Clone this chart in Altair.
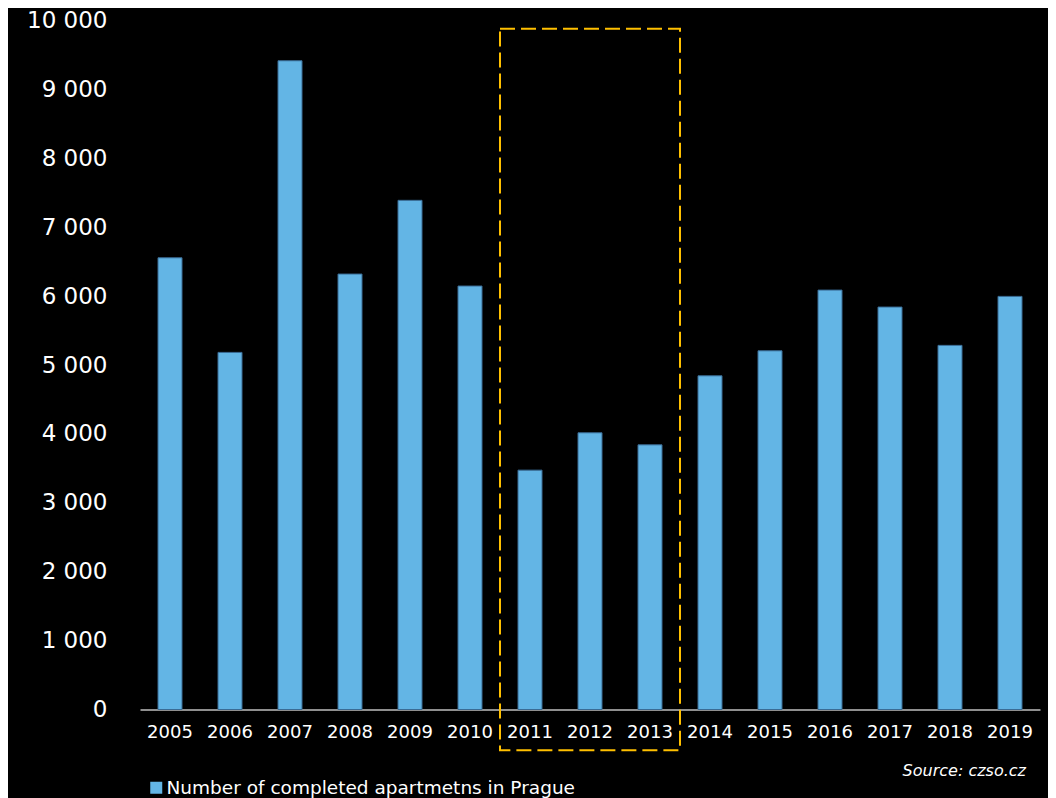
import altair as alt
import pandas as pd

# ---- data ----
years = [str(y) for y in range(2005, 2020)]
completed = [6556, 5183, 9416, 6320, 7390, 6146, 3474, 4016, 3841, 4843, 5206, 6087, 5841, 5285, 5996]
series_name = "Number of completed apartmetns in Prague"
highlight_years = ["2011", "2013"]
highlight_value_range = [-590, 9880]
y_ticks = list(range(0, 10001, 1000))
source_note = "Source: czso.cz"
source_note_level = -968  # value-axis level of the note's baseline, below the axis

FONT = "DejaVu Sans"
BAR_COLOR = "#63b5e5"

bars_df = pd.DataFrame({"year": years, "value": completed, "series": series_name})
hl_df = pd.DataFrame({
    "start": [years.index(highlight_years[0])],
    "end": [years.index(highlight_years[1]) + 1],
    "low": [highlight_value_range[0]],
    "high": [highlight_value_range[1]],
})
note_df = pd.DataFrame({"pos": [len(years)], "level": [source_note_level], "text": [source_note]})

y_scale = alt.Scale(domain=[0, 10000], nice=False)
slot_scale = alt.Scale(domain=[0, len(years)], nice=False, zero=False)

bars = alt.Chart(bars_df).mark_bar(stroke="#3a6c95", strokeWidth=1).encode(
    x=alt.X("year:N", sort=years,
            scale=alt.Scale(paddingInner=0.6, paddingOuter=0.3),
            axis=alt.Axis(title=None, labelAngle=0, labelFontSize=18, labelColor="white",
                          labelFont=FONT, labelPadding=14, tickSize=0, ticks=False,
                          domainColor="#bfbfbf", domainWidth=1.5, grid=False)),
    y=alt.Y("value:Q", scale=y_scale,
            axis=alt.Axis(title=None, values=y_ticks,
                          labelExpr="replace(format(datum.value, ','), ',', ' ')",
                          labelFontSize=23, labelColor="white", labelFont=FONT,
                          labelPadding=33, tickSize=0, ticks=False, domain=False, grid=False)),
    color=alt.Color("series:N", scale=alt.Scale(range=[BAR_COLOR]),
                    legend=alt.Legend(title=None, orient="none", legendX=7, legendY=758,
                                      symbolType="square", symbolSize=144, symbolStrokeWidth=0,
                                      labelFontSize=18.5, labelColor="white", labelFont=FONT,
                                      labelLimit=0, padding=0, labelOffset=1)),
)

box = alt.Chart(hl_df).mark_rect(fillOpacity=0, stroke="#ffc000", strokeWidth=2,
                                 strokeDash=[15, 6]).encode(
    x=alt.X("start:Q", scale=slot_scale, axis=None),
    x2="end:Q",
    y=alt.Y("low:Q", scale=y_scale, axis=alt.Axis(title=None)),
    y2="high:Q",
)

note = alt.Chart(note_df).mark_text(align="right", baseline="alphabetic", dx=-14,
                                    fontSize=16, fontStyle="italic", color="white",
                                    font=FONT).encode(
    x=alt.X("pos:Q", scale=slot_scale, axis=None),
    y=alt.Y("level:Q", scale=y_scale, axis=alt.Axis(title=None)),
    text="text:N",
)

overlay = alt.layer(box, note)

chart = alt.layer(bars, overlay).resolve_scale(x="independent").properties(
    width=900,
    height=689,
    padding={"left": 132, "top": 12.5, "right": 8, "bottom": 92},
    autosize=alt.AutoSizeParams(type="none"),
    background="black",
).configure_view(strokeWidth=0)

chart.save("out.html", embed_options={"renderer": "svg", "actions": False})
